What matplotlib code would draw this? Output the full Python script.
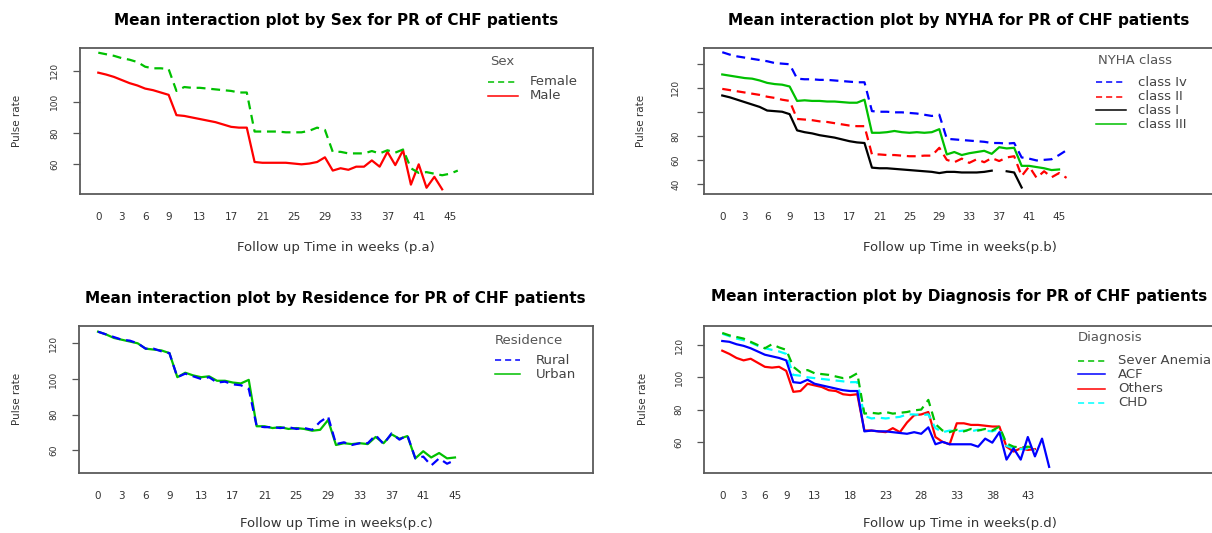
import numpy as np
import matplotlib.pyplot as plt

nan = np.nan
weeks = list(range(47))

# panel a: by sex
female = [131.5, 130.5, 129.5, 128, 127, 125.5, 122.5, 121.5, 121.5, 121,
          107, 109.5, 109, 109, 108.5, 108, 107.5, 107, 106, 106,
          81, 81, 81, 81, 80.5, 80.5, 80.5, 81.5, 83.5, 82,
          68, 68, 67, 67, 67, 68.5, 67, 69, 67.5, 69.5,
          57.5, 54.5, 55, 54, 53, 54, 56]
male = [118.7, 117.5, 116, 114, 112, 110.5, 108.5, 107.5, 106, 104.5,
        91.5, 91, 90, 89, 88, 87, 85.5, 84, 83.5, 83.5,
        61.5, 61, 61, 61, 61, 60.5, 60, 60.5, 61.5, 64.5,
        56, 57.5, 56.5, 58.5, 58.5, 62.5, 58.5, 68, 59.5, 69,
        47, 60, 45, 52, 44, nan, nan]

# panel b: by NYHA class
class_iv = [149.5, 147.5, 146, 145, 144, 143, 142, 140.5, 140, 139.5,
            127.5, 127, 127, 126.5, 126.5, 126, 125.5, 125, 124.5, 124.5,
            100.5, 100, 100, 99.5, 99.5, 99, 98.5, 97.5, 96.5, 97.5,
            77.5, 77, 76.5, 76, 75.5, 75, 74, 74, 73.5, 74,
            62, 61, 59.5, 60, 60.5, 64, 68]
class_ii = [119, 118, 117, 116, 115, 114, 112.5, 111.5, 110, 109,
            94, 93.5, 93, 92, 91.5, 90.5, 89.5, 88.5, 88, 88,
            64.5, 64.5, 64, 64, 63.5, 63, 63, 63.5, 63.5, 70,
            60, 58, 61, 57.5, 60.5, 58, 61.5, 59, 62, 63,
            46.5, 54.5, 45, 50.5, 45.5, 49, 45]
class_i = [113.5, 112, 110, 108, 106, 104, 101, 100.5, 100, 98,
           84.5, 83, 82, 80.5, 79.5, 78.5, 77, 75.5, 74.5, 74,
           53.5, 53, 53, 52.5, 52, 51.5, 51, 50.5, 50, 49,
           50, 50, 49.5, 49.5, 49.5, 50, 51, nan, 50.5, 49.5,
           37, nan, nan, nan, nan, nan, nan]
class_iii = [131, 130, 129, 128, 127.5, 126, 124, 123, 122.5, 121,
             109, 109.5, 109, 109, 108.5, 108.5, 108, 107.5, 107.5, 110,
             82.5, 82.5, 83, 84, 83, 82.5, 83, 82.5, 83, 85.5,
             64.5, 66.5, 64, 65.5, 66.5, 67.5, 65, 70.5, 69.5, 70,
             55, 55, 54, 53, 51.5, 52, nan]

# panel c: by residence
rural = [126.5, 125, 123.5, 122, 121.5, 120, 117, 117, 115.5, 114.5,
         101, 103, 101.5, 100, 101, 98, 98.5, 97, 96.5, 94.5,
         73.5, 73, 73, 72.5, 73, 72, 72.5, 71.5, 76, 79,
         63.5, 64.5, 63, 64, 64, 68.5, 63.5, 69.5, 66, 68.5,
         55.5, 56.5, 51.5, 55.5, 52.5, 54.5, nan]
urban = [126.5, 125, 123, 122, 121, 120, 117, 116.5, 116, 114.5,
         101, 103.5, 102, 101, 101.5, 99, 99, 98, 97.5, 99.5,
         73.5, 73.5, 72.5, 73, 72, 72.5, 72, 71, 71.5, 77,
         63, 64, 63.5, 64, 63.5, 67.5, 64, 69, 66.5, 68,
         55.5, 59.5, 56, 58.5, 55.5, 56, nan]

# panel d: by diagnosis
sever_anemia = [127.5, 126, 125, 124, 122, 120, 118, 120.5, 118.5, 117,
                106.5, 103, 104.5, 102.5, 102, 101.5, 100.5, 99.5, 100, 102.5,
                77.5, 78, 77.5, 78.5, 77.5, 78, 78.5, 79.5, 80, 86,
                71, 67, 66, 67.5, 66.5, 68, 67, 68, 67, 69.5,
                59, 57, 56.5, 57, 56.5, nan, 66]
chd = [127, 125.5, 124, 123, 121.5, 119.5, 118, 117, 116, 114.5,
       101.5, 101, 100, 99.5, 99, 98.5, 98, 97.5, 97, 97,
       76, 74.5, 75, 74.5, 75, 75.5, 77, 77, 76.5, 77,
       68.5, 66, 67, 66.5, 67, 66.5, 67.5, 67, 66.5, 68,
       57.5, 56, 55.5, 56, 55, nan, nan]
acf = [122.5, 122, 120.5, 119.5, 118, 116, 114, 113, 112, 110.5,
       97, 96.5, 98.5, 96, 95, 94, 93, 92, 91.5, 91.5,
       66.5, 67, 66.5, 66.5, 66, 65.5, 65, 66, 65, 69,
       58.5, 60, 58.5, 58.5, 58.5, 58.5, 57, 62, 59.5, 66,
       49, 56, 49, 63, 51, 62, 44.5]
others = [116.5, 114.5, 112, 110.5, 111.5, 109, 106.5, 106, 106.5, 104,
          91, 91.5, 96, 95, 94, 92, 91.5, 89.5, 89, 89.5,
          67, 67, 66.5, 66, 68.5, 66, 72, 76.5, 77, 78.5,
          63, 60, 58.5, 71.5, 71.5, 70.5, 70.5, 70, 69.5, 69.5,
          57, 54, 56, 55, 55.5, nan, nan]

ticks_abc = [0, 3, 6, 9, 13, 17, 21, 25, 29, 33, 37, 41, 45]
ticks_d = [0, 3, 6, 9, 13, 18, 23, 28, 33, 38, 43]

GREEN = '#00c000'
DASH = (0, (4, 2.6))
LW = 1.6
W, H = 1212, 533
fig = plt.figure(figsize=(W / 100, H / 100), dpi=100)


def panel(l, t, r, b, xlim, ylim, yticks, ylabels, xticks, ypad):
    ax = fig.add_axes([l / W, 1 - b / H, (r - l) / W, (b - t) / H])
    ax.set_xlim(*xlim)
    ax.set_ylim(*ylim)
    ax.set_xticks(xticks)
    ax.set_xticklabels([str(v) for v in xticks], fontsize=7.5, color='#333333')
    ax.tick_params(axis='x', length=0, pad=13)
    ax.set_yticks(yticks)
    ax.set_yticklabels(ylabels, fontsize=6.5, color='#333333', rotation=90, va='center')
    ax.tick_params(axis='y', length=5, width=0.9, color='#555555', pad=ypad)
    for s in ax.spines.values():
        s.set_color('#5a5a5a')
        s.set_linewidth(1.3)
    return ax


def legend(ax, box, title, tpos, x0, x1, xt, rows, labels, colors, styles):
    l, t, r, b = box
    fx = lambda px: (px - l) / (r - l)
    fy = lambda py: (b - py) / (b - t)
    ax.text(fx(tpos[0]), fy(tpos[1]), title, transform=ax.transAxes,
            ha='left', va='center', fontsize=9.5, color='#555555')
    for y, lab, c, ls in zip(rows, labels, colors, styles):
        ax.plot([fx(x0), fx(x1)], [fy(y), fy(y)], transform=ax.transAxes,
                color=c, ls=ls, lw=1.1)
        ax.text(fx(xt), fy(y), lab, transform=ax.transAxes, ha='left',
                va='center', fontsize=9.5, color='#444444')


def labels(title, tx, ty, xlab, xx, xy, ylx, yly):
    fig.text(tx / W, 1 - ty / H, title, ha='center', va='center',
             fontsize=11, fontweight='bold')
    fig.text(xx / W, 1 - xy / H, xlab, ha='center', va='center',
             fontsize=9.5, color='#333333')
    fig.text(ylx / W, 1 - yly / H, 'Pulse rate', ha='center', va='center',
             rotation=90, fontsize=7.5, color='#333333')


# ---- panel a
b1 = (80, 48, 593, 194)
ax1 = panel(*b1, (-2.34, 63.3), (41, 134.5), [60, 80, 100, 120],
            ['60', '80', '100', '120'], ticks_abc, 10)
ax1.plot(weeks, male, color='red', lw=LW)
ax1.plot(weeks, female, color=GREEN, lw=LW, ls=DASH)
legend(ax1, b1, 'Sex', (490, 61.7), 488, 518, 530, [81.7, 95.7],
       ['Female', 'Male'], [GREEN, 'red'], [DASH, '-'])
ax1.set_xlim(-2.34, 63.3)
ax1.set_ylim(41, 134.5)
labels('Mean interaction plot by Sex for PR of CHF patients', 336, 21,
       'Follow up Time in weeks (p.a)', 336, 247, 17, 121)

# ---- panel b
b2 = (704, 48, 1214, 194)
ax2 = panel(*b2, (-2.44, 65.7), (31.6, 153), [40, 60, 80, 100, 120, 140],
            ['40', '60', '80', '', '120', ''], ticks_abc, 12)
ax2.plot(weeks, class_i, color='black', lw=LW)
ax2.plot(weeks, class_ii, color='red', lw=LW, ls=DASH)
ax2.plot(weeks, class_iii, color=GREEN, lw=LW)
ax2.plot(weeks, class_iv, color='blue', lw=LW, ls=DASH)
legend(ax2, b2, 'NYHA class', (1098, 60.7), 1096, 1126, 1138,
       [82.3, 96.7, 110, 124], ['class Iv', 'class II', 'class I', 'class III'],
       ['blue', 'red', 'black', GREEN], [DASH, DASH, '-', '-'])
ax2.set_xlim(-2.44, 65.7)
ax2.set_ylim(31.6, 153)
labels('Mean interaction plot by NYHA for PR of CHF patients', 959, 21,
       'Follow up Time in weeks(p.b)', 960, 248, 641, 121)

# ---- panel c
b3 = (79, 326, 593, 473)
ax3 = panel(*b3, (-2.4, 62.4), (47.3, 129.7), [60, 80, 100, 120],
            ['60', '80', '100', '120'], ticks_abc, 10)
ax3.plot(weeks, urban, color=GREEN, lw=LW)
ax3.plot(weeks, rural, color='blue', lw=LW, ls=DASH)
legend(ax3, b3, 'Residence', (495, 340), 495, 520, 536, [360, 374],
       ['Rural', 'Urban'], ['blue', GREEN], [DASH, '-'])
ax3.set_xlim(-2.4, 62.4)
ax3.set_ylim(47.3, 129.7)
labels('Mean interaction plot by Residence for PR of CHF patients', 335, 298,
       'Follow up Time in weeks(p.c)', 336, 523, 17, 399)

# ---- panel d
b4 = (704, 326, 1214, 473)
ax4 = panel(*b4, (-2.57, 69.2), (40.7, 131.8), [60, 80, 100, 120],
            ['60', '80', '100', '120'], ticks_d, 9.5)
ax4.plot(weeks, others, color='red', lw=LW)
ax4.plot(weeks, chd, color='cyan', lw=LW, ls=DASH)
ax4.plot(weeks, sever_anemia, color=GREEN, lw=LW, ls=DASH)
ax4.plot(weeks, acf, color='blue', lw=LW)
legend(ax4, b4, 'Diagnosis', (1078, 337.7), 1078, 1105, 1118,
       [361, 374.3, 389, 402.7], ['Sever Anemia', 'ACF', 'Others', 'CHD'],
       [GREEN, 'blue', 'red', 'cyan'], [DASH, '-', '-', DASH])
ax4.set_xlim(-2.57, 69.2)
ax4.set_ylim(40.7, 131.8)
labels('Mean interaction plot by Diagnosis for PR of CHF patients', 959, 296,
       'Follow up Time in weeks(p.d)', 960, 523, 643, 399)

fig.savefig('out.png', dpi=100)
